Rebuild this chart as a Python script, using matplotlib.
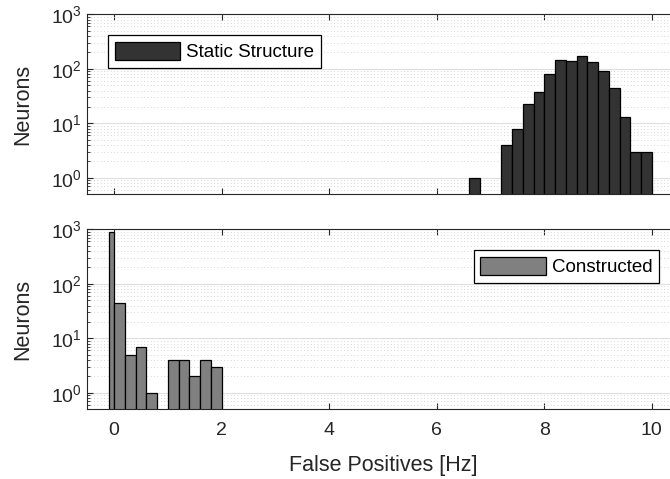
import matplotlib
matplotlib.use("Agg")
import matplotlib.pyplot as plt
import numpy as np
from matplotlib.ticker import LogLocator, FixedLocator, NullFormatter, FuncFormatter

plt.rcParams['font.family'] = ['Liberation Sans', 'DejaVu Sans']
plt.rcParams['mathtext.default'] = 'regular'

# Static structure histogram (bin edges in Hz, counts)
static_edges = [6.6, 6.8, 7.0, 7.2, 7.4, 7.6, 7.8, 8.0, 8.2, 8.4, 8.6, 8.8, 9.0, 9.2, 9.4, 9.6, 9.8, 10.0]
static_counts = [1, 0, 0, 4, 8, 23, 38, 80, 147, 139, 172, 136, 92, 44, 13, 3, 3]

# Constructed histogram
constructed_edges = [-0.1, 0.0, 0.2, 0.4, 0.6, 0.8, 1.0, 1.2, 1.4, 1.6, 1.8, 2.0]
constructed_counts = [900, 45, 5, 7, 1, 0, 4, 4, 2, 4, 3]

labels = ["Static Structure", "Constructed"]
x_ticks = [0, 2, 4, 6, 8, 10]
y_ticks = [1, 10, 100, 1000]

W, H = 670, 479
fig = plt.figure(figsize=(W / 100, H / 100), dpi=100)

def ax_rect(l, t, r, b):
    return [l / W, 1 - b / H, (r - l) / W, (b - t) / H]

ax1 = fig.add_axes(ax_rect(87.3, 14.3, 678.7, 194.3))
ax2 = fig.add_axes(ax_rect(87.3, 229.3, 678.7, 409.3))

axcol = '#262626'
TICK_FS = 14
LABEL_FS = 15.5
LEG_FS = 13.5

def style(ax):
    ax.set_yscale('log', nonpositive='clip')
    ax.set_ylim(0.5, 1000)
    ax.set_xlim(-0.5, 10.5)
    ax.set_xticks(x_ticks)
    ax.yaxis.set_major_locator(FixedLocator(y_ticks))
    ax.yaxis.set_major_formatter(FuncFormatter(lambda v, p: r'$10^{%d}$' % int(round(np.log10(v)))))
    ax.yaxis.set_minor_locator(LogLocator(base=10, subs=np.arange(2, 10), numticks=20))
    ax.yaxis.set_minor_formatter(NullFormatter())
    ax.tick_params(axis='both', which='major', direction='in', length=4, width=0.8,
                   colors=axcol, labelsize=TICK_FS, top=True, right=True, labelcolor='#262626')
    ax.tick_params(axis='y', which='minor', direction='in', length=2.5, width=0.6,
                   colors=axcol, right=True)
    ax.tick_params(axis='x', pad=9)
    ax.tick_params(axis='y', pad=4)
    ax.grid(True, axis='y', which='major', color='#dedede', linewidth=0.8, linestyle='-')
    ax.grid(True, axis='y', which='minor', color='#c8c8c8', linewidth=0.6, linestyle=(0, (1, 3)))
    ax.set_axisbelow(True)
    for s in ax.spines.values():
        s.set_color(axcol)
        s.set_linewidth(0.8)
    ax.set_ylabel('Neurons', fontsize=LABEL_FS, color='#262626', labelpad=13)

style(ax1)
style(ax2)

ax1.hist(static_edges[:-1], bins=static_edges, weights=static_counts,
         color='#333333', edgecolor='black', linewidth=0.9, label=labels[0])
ax2.hist(constructed_edges[:-1], bins=constructed_edges, weights=constructed_counts,
         color='#808080', edgecolor='black', linewidth=0.9, label=labels[1])

ax1.tick_params(axis='x', labelbottom=False)
ax2.set_xlabel('False Positives [Hz]', fontsize=LABEL_FS, color='#262626', labelpad=12)

def legend(ax, loc, anchor):
    lg = ax.legend(loc=loc, bbox_to_anchor=anchor, fontsize=LEG_FS, frameon=True,
                   fancybox=False, framealpha=1, edgecolor='black', handlelength=3.5,
                   handleheight=1.15, handletextpad=0.33, borderpad=0.35, borderaxespad=0)
    lg.get_frame().set_linewidth(0.9)
    return lg

legend(ax1, 'upper left', (0.035, 0.885))
legend(ax2, 'upper right', (0.967, 0.885))

fig.savefig('out.png', dpi=100)
